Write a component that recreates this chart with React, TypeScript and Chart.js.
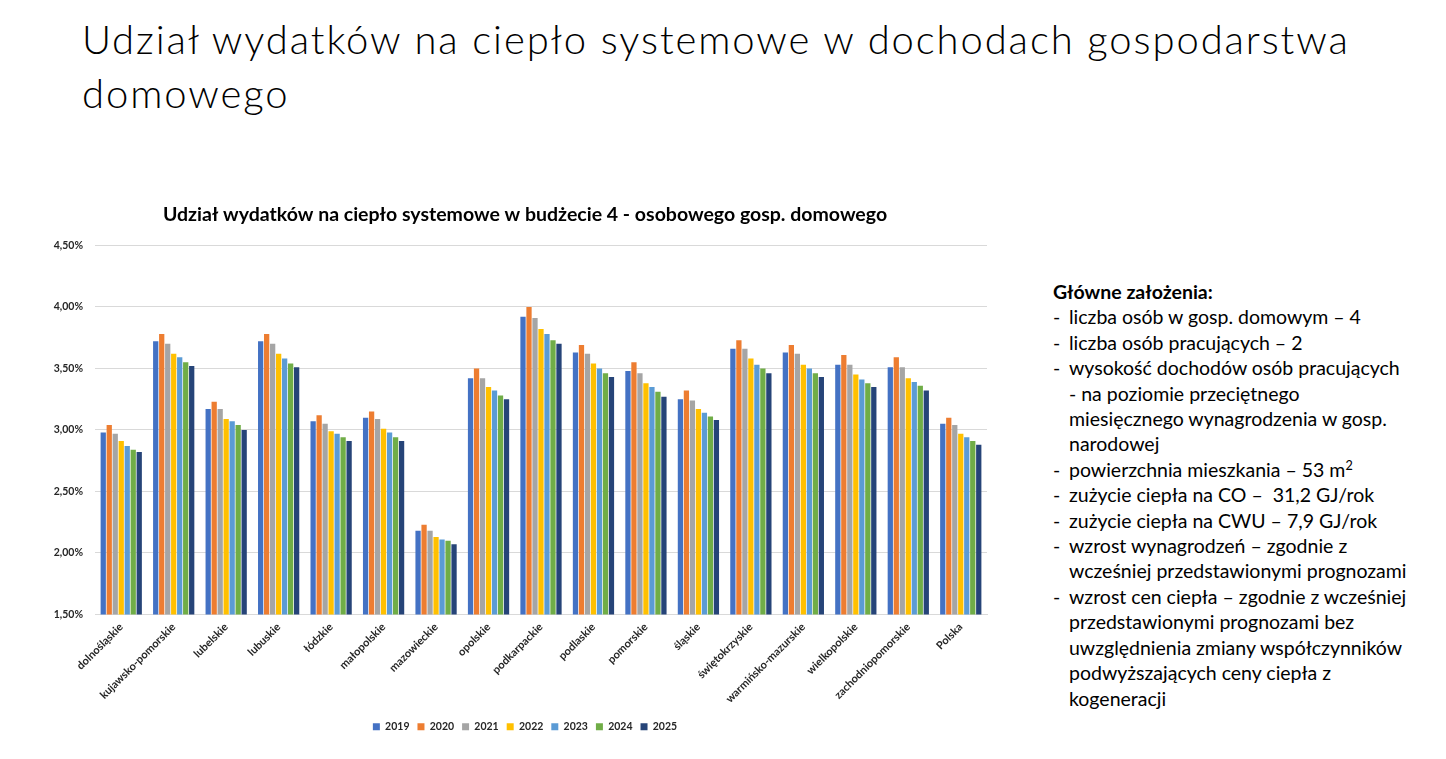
import React, { useEffect, useRef } from "react";
import { Chart, registerables } from "chart.js";

Chart.register(...registerables);

// Regions (voivodeships) and the national average
const regions = [
  "dolnośląskie",
  "kujawsko-pomorskie",
  "lubelskie",
  "lubuskie",
  "łódzkie",
  "małopolskie",
  "mazowieckie",
  "opolskie",
  "podkarpackie",
  "podlaskie",
  "pomorskie",
  "śląskie",
  "świętokrzyskie",
  "warmińsko-mazurskie",
  "wielkopolskie",
  "zachodniopomorskie",
  "Polska",
];

// Share of district-heating costs in household income, % per year
const years = ["2019", "2020", "2021", "2022", "2023", "2024", "2025"];
const share2019 = [2.98, 3.72, 3.17, 3.72, 3.07, 3.10, 2.18, 3.42, 3.92, 3.63, 3.48, 3.25, 3.66, 3.63, 3.53, 3.51, 3.05];
const share2020 = [3.04, 3.78, 3.23, 3.78, 3.12, 3.15, 2.23, 3.50, 4.00, 3.69, 3.55, 3.32, 3.73, 3.69, 3.61, 3.59, 3.10];
const share2021 = [2.97, 3.70, 3.17, 3.70, 3.05, 3.09, 2.18, 3.42, 3.91, 3.62, 3.46, 3.24, 3.66, 3.62, 3.53, 3.51, 3.04];
const share2022 = [2.91, 3.62, 3.09, 3.62, 2.99, 3.01, 2.13, 3.35, 3.82, 3.54, 3.38, 3.17, 3.58, 3.53, 3.45, 3.42, 2.97];
const share2023 = [2.87, 3.59, 3.07, 3.58, 2.97, 2.98, 2.11, 3.32, 3.78, 3.50, 3.35, 3.14, 3.53, 3.50, 3.41, 3.39, 2.94];
const share2024 = [2.84, 3.55, 3.04, 3.54, 2.94, 2.94, 2.10, 3.28, 3.73, 3.46, 3.31, 3.11, 3.50, 3.46, 3.38, 3.36, 2.91];
const share2025 = [2.82, 3.52, 3.00, 3.51, 2.91, 2.91, 2.07, 3.25, 3.70, 3.43, 3.27, 3.08, 3.46, 3.43, 3.35, 3.32, 2.88];

const seriesValues = [share2019, share2020, share2021, share2022, share2023, share2024, share2025];
const seriesColors = ["#4472C4", "#ED7D31", "#A5A5A5", "#FFC000", "#5B9BD5", "#70AD47", "#264478"];

// Y axis range
const yMin = 1.5;
const yMax = 4.5;
const yStep = 0.5;

const chartTitle = "Udział wydatków na ciepło systemowe w budżecie 4 - osobowego gosp. domowego";
const slideTitle = ["Udział wydatków na ciepło systemowe w dochodach gospodarstwa", "domowego"];

type Line = { text: React.ReactNode; bullet?: boolean };
const assumptions: Line[] = [
  { text: "liczba osób w gosp. domowym – 4", bullet: true },
  { text: "liczba osób pracujących – 2", bullet: true },
  { text: "wysokość dochodów osób pracujących", bullet: true },
  { text: "- na poziomie przeciętnego" },
  { text: "miesięcznego wynagrodzenia w gosp." },
  { text: "narodowej" },
  {
    text: (
      <>
        powierzchnia mieszkania – 53 m<sup style={{ fontSize: "0.65em", lineHeight: 0, verticalAlign: "0.55em" }}>2</sup>
      </>
    ),
    bullet: true,
  },
  { text: "zużycie ciepła na CO –  31,2 GJ/rok", bullet: true },
  { text: "zużycie ciepła na CWU – 7,9 GJ/rok", bullet: true },
  { text: "wzrost wynagrodzeń – zgodnie z", bullet: true },
  { text: "wcześniej przedstawionymi prognozami" },
  { text: "wzrost cen ciepła – zgodnie z wcześniej", bullet: true },
  { text: "przedstawionymi prognozami bez" },
  { text: "uwzględnienia zmiany współczynników" },
  { text: "podwyższających ceny ciepła z" },
  { text: "kogeneracji" },
];

const FONT = "Lato, 'Open Sans', sans-serif";

// Canvas geometry: plot spans x 95..987, y 55..422 inside a 1010x560 canvas
const CANVAS_W = 1010;
const CANVAS_H = 560;
const Y_AXIS_W = 95;
// Title and legend are centred on a box that starts this far from the canvas edge
const HEADER_LEFT = 63;

// Narrows the title and legend boxes on the left so they centre over the whole chart object
const centreBlocks = {
  id: "centreBlocks",
  afterLayout(chart: any) {
    for (const box of [chart.titleBlock, chart.legend]) {
      if (box) {
        box.left = HEADER_LEFT;
        box.width = box.right - box.left;
      }
    }
  },
};

function BarChart() {
  const canvasRef = useRef<HTMLCanvasElement | null>(null);

  useEffect(() => {
    const canvas = canvasRef.current;
    if (!canvas) return;
    const chart = new Chart(canvas, {
      type: "bar",
      data: {
        labels: regions,
        datasets: years.map((y, i) => ({
          label: y,
          data: seriesValues[i],
          backgroundColor: seriesColors[i],
          borderWidth: 0,
          barPercentage: 0.88,
          categoryPercentage: 0.8,
        })),
      },
      plugins: [centreBlocks],
      options: {
        responsive: false,
        animation: false,
        layout: { padding: { left: 0, right: 23, top: 0, bottom: 8 } },
        plugins: {
          title: {
            display: true,
            text: chartTitle,
            color: "#000000",
            font: { family: FONT, size: 19.5, weight: "bold" },
            padding: { top: 13, bottom: 19 },
          },
          legend: {
            display: true,
            position: "bottom",
            labels: {
              boxWidth: 7,
              boxHeight: 7,
              padding: 8,
              color: "#262626",
              font: { family: FONT, size: 10.5, weight: "bold" },
            },
          },
          tooltip: { enabled: false },
        },
        scales: {
          x: {
            grid: { display: false, drawTicks: false },
            border: { display: true, color: "#D9D9D9", width: 1 },
            ticks: {
              autoSkip: false,
              minRotation: 45,
              maxRotation: 45,
              padding: 6,
              color: "#262626",
              font: { family: FONT, size: 11, weight: "bold" },
            },
            afterFit: (scale: any) => {
              scale.height = 99;
            },
          },
          y: {
            min: yMin,
            max: yMax,
            grid: { color: "#D9D9D9", lineWidth: 1, drawTicks: false },
            border: { display: false },
            ticks: {
              stepSize: yStep,
              padding: 12,
              color: "#262626",
              font: { family: FONT, size: 10.5, weight: "bold" },
              callback: (v: any) => Number(v).toFixed(2).replace(".", ",") + "%",
            },
            afterFit: (scale: any) => {
              scale.width = Y_AXIS_W;
            },
          },
        },
      },
    });
    return () => chart.destroy();
  }, []);

  return <canvas ref={canvasRef} width={CANVAS_W} height={CANVAS_H} style={{ display: "block" }} />;
}

export default function App() {
  return (
    <div
      style={{
        position: "absolute",
        left: 0,
        top: 0,
        width: 1446,
        height: 759,
        background: "#ffffff",
        overflow: "hidden",
        fontFamily: FONT,
        color: "#000000",
      }}
    >
      <div
        style={{
          position: "absolute",
          left: 82,
          top: 12,
          fontSize: 40,
          lineHeight: "54px",
          fontWeight: 300,
          letterSpacing: "1.9px",
          whiteSpace: "nowrap",
        }}
      >
        {slideTitle.map((t, i) => (
          <div key={i}>{t}</div>
        ))}
      </div>

      <div style={{ position: "absolute", left: 0, top: 190, width: CANVAS_W, height: CANVAS_H }}>
        <BarChart />
      </div>

      <div
        style={{
          position: "absolute",
          left: 1053,
          top: 279,
          fontSize: 19.5,
          lineHeight: "25.4px",
          whiteSpace: "pre",
          color: "#000000",
        }}
      >
        <div style={{ fontWeight: "bold" }}>Główne założenia:</div>
        {assumptions.map((l, i) => (
          <div key={i} style={{ display: "flex" }}>
            <span style={{ width: 16, flex: "none" }}>{l.bullet ? "-" : ""}</span>
            <span>{l.text}</span>
          </div>
        ))}
      </div>
    </div>
  );
}
